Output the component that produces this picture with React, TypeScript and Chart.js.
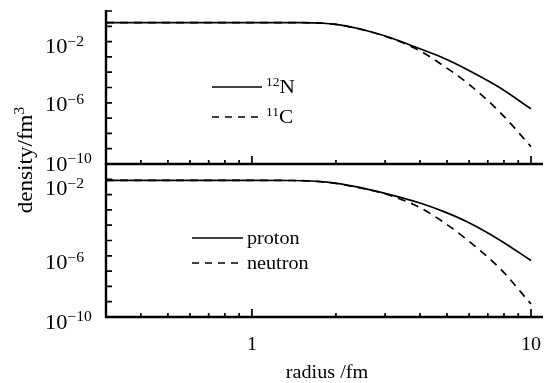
import React, { useEffect, useRef } from 'react';
import { Chart, registerables } from 'chart.js';

Chart.register(...registerables);

// ---- data (radius in fm, density in fm^-3) ----
const radiusTop = [0.3, 1.0, 1.5, 1.8, 2.0, 2.2, 2.38, 3.12, 4.0, 4.9, 5.9, 7.74, 10];
const density12N = [0.174, 0.174, 0.172, 0.158, 0.132, 0.1, 0.0741, 0.0186, 3.39e-3, 7.94e-4, 1.51e-4, 9.55e-6, 3.98e-7];
const density11C = [0.174, 0.174, 0.172, 0.158, 0.132, 0.1, 0.0741, 0.0174, 2.51e-3, 2.34e-4, 2.04e-5, 2.4e-7, 1.38e-9];

const radiusBottom = [0.3, 1.0, 1.4, 1.86, 2.38, 3.12, 4.0, 4.9, 5.9, 7.74, 10];
const densityProton = [0.0851, 0.0851, 0.0832, 0.0646, 0.0316, 0.01, 2.82e-3, 7.41e-4, 1.66e-4, 1.05e-5, 4.9e-7];
const densityNeutron = [0.0851, 0.0851, 0.0832, 0.0631, 0.0302, 8.91e-3, 1.41e-3, 1.41e-4, 1.12e-5, 1.48e-7, 7.08e-10];

const xMajorTicks = [1, 10];
const xMajorLabels = ['1', '10'];
const xMinorTicks = [0.3, 0.4, 0.5, 0.6, 0.7, 0.8, 0.9, 2, 3, 4, 5, 6, 7, 8, 9];
const yTicks = [1e-10, 1e-9, 1e-8, 1e-7, 1e-6, 1e-5, 1e-4, 1e-3, 1e-2, 1e-1, 1];
const yLabelTicks = [1e-2, 1e-6, 1e-10];
const yLabelExponents = ['\u22122', '\u22126', '\u221210'];

const topLegend = [
  { sup: '12', name: 'N', dashed: false },
  { sup: '11', name: 'C', dashed: true },
];
const bottomLegend = [
  { sup: '', name: 'proton', dashed: false },
  { sup: '', name: 'neutron', dashed: true },
];

// layout-only nudges of the y tick labels (pixels)
const LABEL_NUDGE_TOP = [5, 2, 0];
const LABEL_NUDGE_BOTTOM = [-6, 7, 5];

const SERIF = '"Liberation Serif", "Times New Roman", serif';
const SX = 1.12;
const W = 545;
const H = 383;

type Seg = { t: string; sup?: boolean };

function drawRich(
  ctx: CanvasRenderingContext2D,
  segs: Seg[],
  x: number,
  y: number,
  size: number,
  align: 'left' | 'right' | 'center',
  sx: number = SX,
  supRatio: number = 0.7
) {
  const supSize = Math.round(size * supRatio);
  const widths = segs.map((s) => {
    ctx.font = `${s.sup ? supSize : size}px ${SERIF}`;
    return ctx.measureText(s.t).width * sx;
  });
  const total = widths.reduce((a, b) => a + b, 0);
  let cx = align === 'right' ? x - total : align === 'center' ? x - total / 2 : x;
  segs.forEach((s, i) => {
    ctx.save();
    ctx.font = `${s.sup ? supSize : size}px ${SERIF}`;
    ctx.textAlign = 'left';
    ctx.textBaseline = 'alphabetic';
    ctx.fillStyle = '#000';
    ctx.translate(cx, y + (s.sup ? -size * 0.38 : 0));
    ctx.scale(sx, 1);
    ctx.fillText(s.t, 0, 0);
    ctx.restore();
    cx += widths[i];
  });
}

function makeAxesPlugin(panel: 'top' | 'bottom') {
  return {
    id: 'customAxes_' + panel,
    afterDraw(chart: any) {
      const ctx: CanvasRenderingContext2D = chart.ctx;
      const { left, right, top, bottom } = chart.chartArea;
      const xs = chart.scales.x;
      const ys = chart.scales.y;
      ctx.save();
      ctx.strokeStyle = '#000';
      ctx.lineCap = 'butt';
      // axis lines
      ctx.lineWidth = 2.4;
      ctx.beginPath();
      ctx.moveTo(left, top - 1);
      ctx.lineTo(left, bottom + 1);
      ctx.moveTo(left - 1, bottom);
      ctx.lineTo(right, bottom);
      ctx.stroke();
      // y ticks
      ctx.lineWidth = 1.7;
      ctx.beginPath();
      yTicks.forEach((v) => {
        const py = ys.getPixelForValue(v);
        ctx.moveTo(left, py);
        ctx.lineTo(left + 6, py);
      });
      // x ticks
      xMinorTicks.forEach((v) => {
        const px = xs.getPixelForValue(v);
        ctx.moveTo(px, bottom);
        ctx.lineTo(px, bottom - 4);
      });
      xMajorTicks.forEach((v) => {
        const px = xs.getPixelForValue(v);
        ctx.moveTo(px, bottom);
        ctx.lineTo(px, bottom - 8);
      });
      ctx.stroke();

      // y tick labels
      const nudges = panel === 'top' ? LABEL_NUDGE_TOP : LABEL_NUDGE_BOTTOM;
      yLabelTicks.forEach((v, i) => {
        const py = ys.getPixelForValue(v) + nudges[i];
        drawRich(ctx, [{ t: '10' }, { t: yLabelExponents[i], sup: true }], 45, py + 6.6, 20, 'left');
      });

      // legend
      const legend = panel === 'top' ? topLegend : bottomLegend;
      const lx0 = panel === 'top' ? 212 : 192;
      const lx1 = panel === 'top' ? 262 : 243;
      const ly = panel === 'top' ? [87, 117] : [238, 263];
      legend.forEach((item, i) => {
        ctx.save();
        ctx.lineWidth = 1.5;
        ctx.setLineDash(item.dashed ? [7, 6] : []);
        ctx.beginPath();
        ctx.moveTo(lx0, ly[i]);
        ctx.lineTo(lx1, ly[i]);
        ctx.stroke();
        ctx.restore();
        const segs: Seg[] = item.sup ? [{ t: item.sup, sup: true }, { t: item.name }] : [{ t: item.name }];
        drawRich(ctx, segs, lx1 + 4, ly[i] + 6, item.sup ? 19 : 18, 'left', SX, 0.65);
      });

      if (panel === 'bottom') {
        xMajorTicks.forEach((v, i) => {
          const px = xs.getPixelForValue(v);
          drawRich(ctx, [{ t: xMajorLabels[i] }], px, 350, 18, 'center');
        });
        drawRich(ctx, [{ t: 'radius /fm' }], 327, 378, 18, 'center');
        // y axis title, rotated
        ctx.save();
        ctx.translate(32, 160);
        ctx.rotate(-Math.PI / 2);
        drawRich(ctx, [{ t: 'density/fm' }, { t: '3', sup: true }], 0, 0, 21, 'center', 1.1, 0.65);
        ctx.restore();
      }
      ctx.restore();
    },
  };
}

function makeConfig(xs: number[], a: number[], b: number[], pad: any, panel: 'top' | 'bottom') {
  return {
    type: 'line' as const,
    data: {
      datasets: [
        {
          data: xs.map((x, i) => ({ x, y: a[i] })),
          borderColor: '#000',
          borderWidth: 1.7,
          pointRadius: 0,
          cubicInterpolationMode: 'monotone' as const,
          fill: false,
        },
        {
          data: xs.map((x, i) => ({ x, y: b[i] })),
          borderColor: '#000',
          borderWidth: 1.7,
          borderDash: [8, 6],
          pointRadius: 0,
          cubicInterpolationMode: 'monotone' as const,
          fill: false,
        },
      ],
    },
    options: {
      animation: false as const,
      responsive: false,
      events: [],
      layout: { padding: pad },
      plugins: { legend: { display: false }, tooltip: { enabled: false } },
      scales: {
        x: { type: 'logarithmic' as const, min: 0.3, max: 11.04, display: false },
        y: { type: 'logarithmic' as const, min: 1e-10, max: 1, display: false },
      },
    },
    plugins: [makeAxesPlugin(panel)],
  };
}

export default function App() {
  const topRef = useRef<HTMLCanvasElement>(null);
  const botRef = useRef<HTMLCanvasElement>(null);
  useEffect(() => {
    const top = new Chart(
      topRef.current as HTMLCanvasElement,
      makeConfig(radiusTop, density12N, density11C, { left: 106, right: 2, top: 11, bottom: H - 164 }, 'top') as any
    );
    const bot = new Chart(
      botRef.current as HTMLCanvasElement,
      makeConfig(radiusBottom, densityProton, densityNeutron, { left: 106, right: 2, top: 164, bottom: H - 317 }, 'bottom') as any
    );
    return () => {
      top.destroy();
      bot.destroy();
    };
  }, []);
  return (
    <div style={{ position: 'fixed', left: 0, top: 0, width: W, height: H, background: '#fff' }}>
      <canvas ref={botRef} width={W} height={H} style={{ position: 'absolute', left: 0, top: 0 }} />
      <canvas ref={topRef} width={W} height={H} style={{ position: 'absolute', left: 0, top: 0 }} />
    </div>
  );
}
